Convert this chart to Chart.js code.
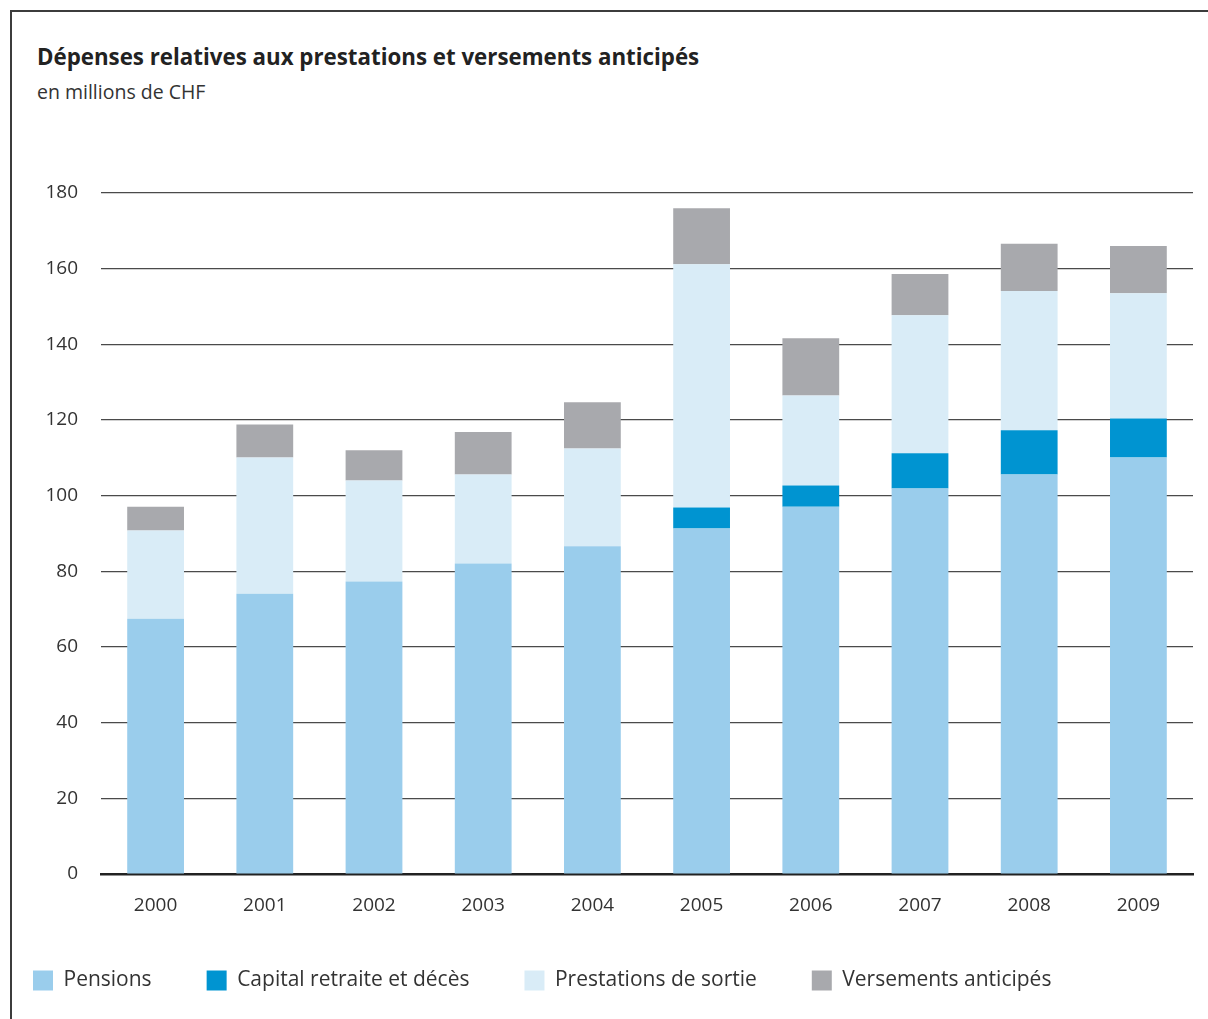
<!DOCTYPE html>
<html>
<head>
<meta charset="utf-8">
<script src="https://cdn.jsdelivr.net/npm/chart.js@4"></script>
<style>
  html, body { margin: 0; padding: 0; background: #fff; overflow: hidden; }
  #frame { position: absolute; left: 10px; top: 10px; width: 1200px; height: 1020px;
           border-top: 2px solid #3c3c3c; border-left: 2px solid #3c3c3c; }
  #title { position: absolute; left: 37px; top: 41px; font: bold 22.3px "Open Sans", sans-serif; color: #222; white-space: nowrap; }
  #subtitle { position: absolute; left: 37px; top: 78px; font: 19.5px "Open Sans", sans-serif; color: #333; white-space: nowrap; }
  #wrap { position: absolute; left: -22px; top: 0; width: 1230px; height: 1001px; }
</style>
</head>
<body>
<div id="frame"></div>
<div id="title">Dépenses relatives aux prestations et versements anticipés</div>
<div id="subtitle">en millions de CHF</div>
<div id="wrap"><canvas id="chart"></canvas></div>
<script>
const years = ['2000', '2001', '2002', '2003', '2004', '2005', '2006', '2007', '2008', '2009'];
const pensions = [67.5, 74.1, 77.3, 82.1, 86.6, 91.3, 97.1, 101.9, 105.6, 110.1];
const capitalRetraite = [0, 0, 0, 0, 0, 5.6, 5.6, 9.3, 11.7, 10.3];
const prestationsSortie = [23.3, 36.0, 26.7, 23.5, 25.9, 64.3, 23.8, 36.5, 36.8, 33.1];
const versementsAnticipes = [6.3, 8.7, 8.0, 11.2, 12.2, 14.8, 15.1, 10.9, 12.5, 12.5];
const yTicks = [0, 20, 40, 60, 80, 100, 120, 140, 160, 180];

const ctx = document.getElementById('chart').getContext('2d');

const chart = new Chart(ctx, {
    type: 'bar',
    data: {
        labels: years,
        datasets: [
            { label: 'Pensions', data: pensions, backgroundColor: '#9acdec' },
            { label: 'Capital retraite et décès', data: capitalRetraite, backgroundColor: '#0094d1' },
            { label: 'Prestations de sortie', data: prestationsSortie, backgroundColor: '#d9ecf7' },
            { label: 'Versements anticipés', data: versementsAnticipes, backgroundColor: '#a8a9ad' }
        ]
    },
    options: {
        responsive: true,
        maintainAspectRatio: false,
        animation: false,
        datasets: {
            bar: { categoryPercentage: 1, barPercentage: 0.52, borderWidth: 0 }
        },
        layout: { padding: { top: 193, right: 15, bottom: 0, left: 0 } },
        plugins: {
            tooltip: { enabled: false },
            legend: {
                position: 'bottom',
                align: 'start',
                labels: {
                    boxWidth: 20,
                    boxHeight: 20,
                    padding: 55,
                    color: '#333',
                    font: { family: 'Open Sans', size: 21 }
                }
            }
        },
        scales: {
            x: {
                stacked: true,
                grid: { display: false, drawTicks: false },
                border: { display: true, color: '#222', width: 2.5 },
                ticks: { color: '#333', padding: 20, font: { family: 'Open Sans', size: 19 } },
                afterFit: function(scale) { scale.height = 41; }
            },
            y: {
                stacked: true,
                min: 0,
                max: 180,
                afterBuildTicks: function(scale) { scale.ticks = yTicks.map(v => ({ value: v })); },
                grid: { color: '#4a4a4a', lineWidth: 1.2, drawTicks: false },
                border: { display: false },
                ticks: { color: '#333', padding: 23, font: { family: 'Open Sans', size: 19 } },
                afterFit: function(scale) { scale.width = 123; }
            }
        }
    }
});
</script>
</body>
</html>
